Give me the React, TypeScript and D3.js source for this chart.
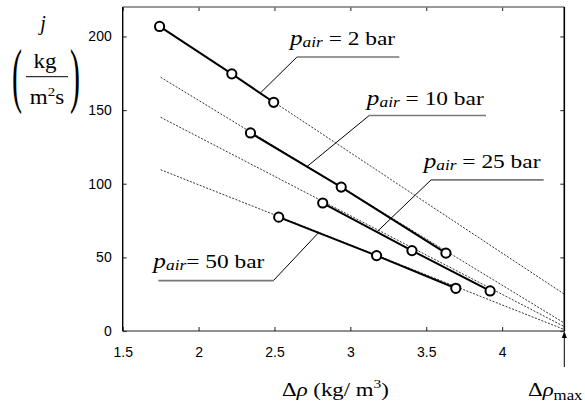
import React, { useRef, useEffect } from 'react';
import * as d3 from 'd3';

// measured points, Δρ in kg/m³ and j in kg/(m²s)
const pressures = ['2', '10', '25', '50'];
const rho2 = [1.743, 2.219, 2.495];
const flux2 = [206.8, 174.6, 155.3];
const rho10 = [2.342, 2.94, 3.63];
const flux10 = [134.5, 97.7, 52.9];
const rho25 = [2.818, 3.406, 3.921];
const flux25 = [86.9, 54.6, 27.2];
const rho50 = [2.528, 3.173, 3.695];
const flux50 = [77.3, 51.2, 29.0];

// dotted fit lines: value at the start and at Δρ_max
const fitStartRho = [1.743, 1.75, 1.75, 1.75];
const fitStartFlux = [206.8, 172.3, 145.1, 109.5];
const fitEndFlux = [25, 5.4, 3, 1];
const rhoMax = 4.41;

const xTicks = [1.5, 2, 2.5, 3, 3.5, 4];
const yTicks = [0, 50, 100, 150, 200];

// labels (data units): text anchor, underline, leader anchor on the curve
const labelRho = [2.602, 3.109, 3.483, 1.702];
const labelFlux = [194.4, 153.6, 110.8, 42.6];
const underlineFlux = [186.0, 146.3, 102.6, 34.2];
const underlineRho0 = [2.648, 3.124, 3.532, 1.735];
const underlineRho1 = [3.323, 3.894, 4.274, 2.493];
const leaderRho = [2.406, 2.714, 3.175, 2.79];
const leaderFromEnd = [false, false, false, true];

const serif = '"Liberation Serif", "Times New Roman", serif';
const sans = '"Liberation Sans", Arial, sans-serif';

const App = () => {
    const ref = useRef<SVGSVGElement>(null);

    useEffect(() => {
        const svg = d3.select(ref.current);
        svg.selectAll('*').remove();

        const x = d3.scaleLinear().domain([1.5, rhoMax]).range([122.7, 564.3]);
        const y = d3.scaleLinear().domain([0, 220]).range([331, 7]);

        const series = [
            { rho: rho2, flux: flux2 },
            { rho: rho10, flux: flux10 },
            { rho: rho25, flux: flux25 },
            { rho: rho50, flux: flux50 },
        ];

        // axes
        const bottom = svg.append('g')
            .attr('transform', `translate(0, ${y(0)})`)
            .call(d3.axisBottom(x).tickValues(xTicks).tickSize(-4).tickPadding(16).tickFormat(d3.format('')));
        const left = svg.append('g')
            .attr('transform', `translate(${x(1.5)}, 0)`)
            .call(d3.axisLeft(y).tickValues(yTicks).tickSize(-4).tickPadding(11));
        svg.append('g')
            .attr('transform', `translate(0, ${y(220)})`)
            .call(d3.axisTop(x).tickValues(xTicks).tickSize(-4).tickFormat(() => ''));
        svg.append('g')
            .attr('transform', `translate(${x(rhoMax)}, 0)`)
            .call(d3.axisRight(y).tickValues(yTicks).tickSize(-4).tickFormat(() => ''));

        svg.selectAll('.domain').remove();
        svg.selectAll('.tick line').attr('stroke', '#444').attr('stroke-width', 1.2);
        [bottom, left].forEach(g => g.selectAll('text')
            .attr('font-family', sans).attr('font-size', 14).attr('fill', '#000'));

        // frame
        svg.append('line').attr('x1', x(1.5)).attr('x2', x(rhoMax)).attr('y1', y(220)).attr('y2', y(220))
            .attr('stroke', '#777').attr('stroke-width', 1.6);
        svg.append('line').attr('x1', x(1.5)).attr('x2', x(rhoMax)).attr('y1', y(0)).attr('y2', y(0))
            .attr('stroke', '#222').attr('stroke-width', 1.2);
        svg.append('line').attr('x1', x(1.5)).attr('x2', x(1.5)).attr('y1', y(220)).attr('y2', y(0))
            .attr('stroke', '#000').attr('stroke-width', 1.4);
        svg.append('line').attr('x1', x(rhoMax)).attr('x2', x(rhoMax)).attr('y1', y(220)).attr('y2', y(0))
            .attr('stroke', '#000').attr('stroke-width', 1.6);

        // dotted fits
        pressures.forEach((p, i) => {
            svg.append('line')
                .attr('x1', x(fitStartRho[i])).attr('y1', y(fitStartFlux[i]))
                .attr('x2', x(rhoMax)).attr('y2', y(fitEndFlux[i]))
                .attr('stroke', '#000').attr('stroke-width', 0.8).attr('stroke-dasharray', '2,1.5');
        });

        // leader lines and labels
        pressures.forEach((p, i) => {
            const s = series[i];
            const k = d3.bisect(s.rho, leaderRho[i]) - 1;
            const t = (leaderRho[i] - s.rho[k]) / (s.rho[k + 1] - s.rho[k]);
            const anchorFlux = s.flux[k] + t * (s.flux[k + 1] - s.flux[k]);
            const startRho = leaderFromEnd[i] ? underlineRho1[i] : underlineRho0[i];
            svg.append('line')
                .attr('x1', x(startRho)).attr('y1', y(underlineFlux[i]))
                .attr('x2', x(leaderRho[i])).attr('y2', y(anchorFlux))
                .attr('stroke', '#000').attr('stroke-width', 1);
            svg.append('line')
                .attr('x1', x(underlineRho0[i])).attr('x2', x(underlineRho1[i]))
                .attr('y1', y(underlineFlux[i])).attr('y2', y(underlineFlux[i]))
                .attr('stroke', '#777').attr('stroke-width', 1.6);

            const txt = svg.append('text')
                .attr('transform', `translate(${x(labelRho[i])}, ${y(labelFlux[i])}) scale(1.2, 1)`)
                .attr('font-family', serif).attr('font-size', 19.5);
            txt.append('tspan').attr('font-style', 'italic').attr('font-size', 21).text('p');
            txt.append('tspan').attr('font-style', 'italic').attr('font-size', 14.5).attr('dy', 2).text('air');
            txt.append('tspan').attr('dy', -2).text(i === 3 ? '= ' : ' = ');
            txt.append('tspan').text(`${p} bar`);
        });

        // measured curves
        series.forEach(s => {
            const pts = s.rho.map((r, k) => [r, s.flux[k]] as [number, number]);
            svg.append('path').attr('d', d3.line().x(d => x(d[0])).y(d => y(d[1]))(pts))
                .attr('fill', 'none').attr('stroke', '#000').attr('stroke-width', 2);
            svg.selectAll(null).data(pts).enter().append('circle')
                .attr('cx', d => x(d[0])).attr('cy', d => y(d[1])).attr('r', 4.6)
                .attr('fill', '#fff').attr('stroke', '#000').attr('stroke-width', 2);
        });

        // y label
        svg.append('text').attr('x', 43).attr('y', 30).attr('text-anchor', 'middle')
            .attr('font-family', serif).attr('font-style', 'italic').attr('font-size', 20).text('j');
        svg.append('text').attr('transform', 'translate(45, 68) scale(1.15, 1)').attr('text-anchor', 'middle')
            .attr('font-family', serif).attr('font-size', 20).text('kg');
        svg.append('line').attr('x1', 26).attr('x2', 68).attr('y1', 76.7).attr('y2', 76.7)
            .attr('stroke', '#000').attr('stroke-width', 1);
        const den = svg.append('text').attr('transform', 'translate(47, 104) scale(1.15, 1)').attr('text-anchor', 'middle')
            .attr('font-family', serif).attr('font-size', 20);
        den.append('tspan').text('m');
        den.append('tspan').attr('font-size', 13).attr('dy', -8).text('2');
        den.append('tspan').attr('dy', 8).text('s');
        svg.append('text').attr('transform', 'translate(12, 98.5) scale(1.2, 2.9)')
            .attr('font-family', serif).attr('font-size', 25).text('(');
        svg.append('text').attr('transform', 'translate(70, 98.5) scale(1.2, 2.9)')
            .attr('font-family', serif).attr('font-size', 25).text(')');

        // x label
        const xl = svg.append('text').attr('transform', 'translate(282, 396) scale(1.2, 1)')
            .attr('font-family', serif).attr('font-size', 19);
        xl.append('tspan').text('Δ');
        xl.append('tspan').attr('font-style', 'italic').text('ρ');
        xl.append('tspan').text('  (kg/ m');
        xl.append('tspan').attr('font-size', 13).attr('dy', -8).text('3');
        xl.append('tspan').attr('dy', 8).text(')');

        // Δρ_max arrow
        svg.append('line').attr('x1', x(rhoMax)).attr('x2', x(rhoMax)).attr('y1', 367).attr('y2', y(0) + 4)
            .attr('stroke', '#000').attr('stroke-width', 1);
        svg.append('path')
            .attr('d', `M${x(rhoMax)},${y(0)} l-2.5,7 l5,0 Z`)
            .attr('fill', '#000');
        const ml = svg.append('text').attr('transform', 'translate(528, 396) scale(1.2, 1)')
            .attr('font-family', serif).attr('font-size', 19);
        ml.append('tspan').text('Δ');
        ml.append('tspan').attr('font-style', 'italic').text('ρ');
        ml.append('tspan').attr('font-size', 14).attr('dy', 4).text('max');
    }, []);

    return (
        <svg ref={ref} width={585} height={403}
            style={{ position: 'absolute', left: 0, top: 0, background: '#fff' }} />
    );
};

export default App;
